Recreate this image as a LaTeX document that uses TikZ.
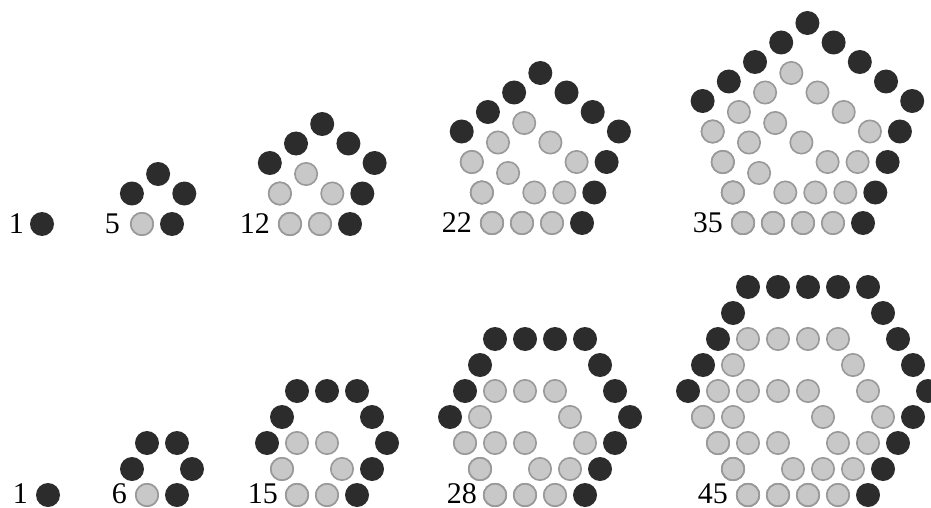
\documentclass[tikz,border=0pt]{standalone}
\usepackage{fontspec}
\setmainfont{Liberation Serif}
\definecolor{darkc}{HTML}{2C2C2C}
\definecolor{lightf}{HTML}{C8C8C8}
\definecolor{lightb}{HTML}{999999}
\tikzset{
  darkdot/.style={fill=darkc},
  lightdot/.style={fill=lightf,draw=lightb,line width=1.6pt},
  numlabel/.style={anchor=east,inner sep=0pt,font=\fontsize{30}{30}\selectfont,text=black}
}
% #1 x, #2 y of shared vertex, #3 n, #4 list macro Sx/Sy/Ex/Ey, #5 number of edges
\newcommand\figdots[5]{%
  \pgfmathtruncatemacro\outerm{#3-1}%
  \ifnum\outerm=0
    \fill[darkdot] (#1,#2) circle (12);
  \else
    \path[lightdot] (#1,#2) circle (11.2);
    \foreach \m in {1,...,\outerm}{%
      \pgfmathtruncatemacro\mm{\m-1}%
      \foreach \sx/\sy/\ex/\ey [count=\i] in #4{%
        \foreach \j in {0,...,\mm}{%
          \pgfmathtruncatemacro\isdark{and(\m==\outerm, or(and(\i>1,\i<#5), and(\i==#5,\j==0)))}%
          \pgfmathsetmacro\px{#1+\m*\sx+\j*\ex}%
          \pgfmathsetmacro\py{#2+\m*\sy+\j*\ey}%
          \ifnum\isdark=1
            \fill[darkdot] (\px,\py) circle (12);
          \else
            \path[lightdot] (\px,\py) circle (11.2);
          \fi
        }%
      }%
    }%
  \fi
}
\newcommand\pentlist{0/0/30/0, 30/0/12.3/-30.5, 42.3/-30.5/-26.2/-19.5, 16.1/-50/-26.2/19.5, -10.1/-30.5/10.1/30.5}
\newcommand\hexlist{0/0/30/0, 30/0/15/-26, 45/-26/-15/-26, 30/-52/-30/0, 0/-52/-15/26, -15/-26/15/26}
\begin{document}
\begin{tikzpicture}[x=1pt,y=-1pt]
\useasboundingbox (0,0) rectangle (931,508);
\clip (0,0) rectangle (931,508);
\fill[white] (0,0) rectangle (931,508);
% pentagonal numbers
\figdots{42}{224}{1}{\pentlist}{5}
\figdots{142}{224}{2}{\pentlist}{5}
\figdots{290}{224}{3}{\pentlist}{5}
\figdots{492}{223}{4}{\pentlist}{5}
\figdots{743}{223}{5}{\pentlist}{5}
\node[numlabel] (p1) at (24,224) {1};
\node[numlabel] (p5) at (120,224) {5};
\node[numlabel] (p12) at (270,224) {12};
\node[numlabel] (p22) at (472,223) {22};
\node[numlabel] (p35) at (723,223) {35};
% hexagonal numbers
\figdots{48}{495}{1}{\hexlist}{6}
\figdots{147}{495}{2}{\hexlist}{6}
\figdots{297}{495}{3}{\hexlist}{6}
\figdots{495}{495}{4}{\hexlist}{6}
\figdots{748}{495}{5}{\hexlist}{6}
\node[numlabel] (h1) at (28,494) {1};
\node[numlabel] (h6) at (127,494) {6};
\node[numlabel] (h15) at (278,494) {15};
\node[numlabel] (h28) at (477,494) {28};
\node[numlabel] (h45) at (728,494) {45};
\end{tikzpicture}
\end{document}
